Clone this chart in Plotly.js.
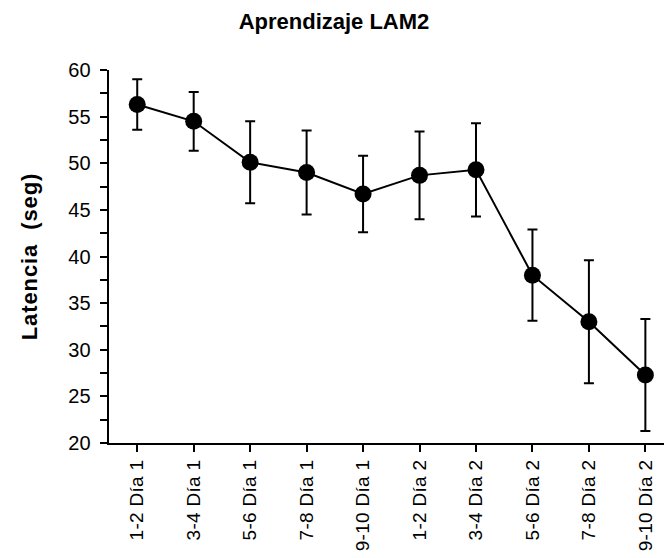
<!DOCTYPE html>
<html>
<head>
<meta charset="utf-8">
<script src="https://cdn.plot.ly/plotly-3.0.1.min.js"></script>
<style>
html,body{margin:0;padding:0;background:#fff;}
#chart{width:664px;height:558px;}
#chart .xtick text, #chart .ytick text {letter-spacing:0.3px;}
#chart .ytitle {letter-spacing:0.9px;}
</style>
</head>
<body>
<div id="chart"></div>
<script>
const categories = ["1-2 Día 1","3-4 Día 1","5-6 Día 1","7-8 Día 1","9-10 Día 1","1-2 Día 2","3-4 Día 2","5-6 Día 2","7-8 Día 2","9-10 Día 2"];
const latencia = [56.3, 54.5, 50.1, 49.0, 46.7, 48.7, 49.3, 38.0, 33.0, 27.3];
const errorSE = [2.7, 3.15, 4.4, 4.5, 4.1, 4.7, 5.0, 4.9, 6.6, 6.0];
const yTicks = [20, 25, 30, 35, 40, 45, 50, 55, 60];
const yMinorTicks = [22.5, 27.5, 32.5, 37.5, 42.5, 47.5, 52.5, 57.5];

const trace = {
  x: categories.map((c, i) => i),
  y: latencia,
  type: 'scatter',
  mode: 'lines+markers',
  line: {color: '#000', width: 2},
  marker: {color: '#000', size: 17},
  error_y: {type: 'data', array: errorSE, visible: true, color: '#000', thickness: 2, width: 5},
  hoverinfo: 'skip'
};

const font = 'Liberation Sans, Arial, sans-serif';
const layout = {
  width: 664, height: 558,
  margin: {l: 109, r: 0, t: 70, b: 115},
  paper_bgcolor: '#fff', plot_bgcolor: '#fff',
  showlegend: false,
  font: {family: font, color: '#000'},
  title: {text: '<b>Aprendizaje LAM2</b>', font: {family: font, size: 22, color: '#000'},
          x: 0.503, xref: 'container', xanchor: 'center', y: 0.962, yref: 'container', yanchor: 'middle'},
  xaxis: {
    range: [-0.5, 9.33],
    tickmode: 'array', tickvals: categories.map((c, i) => i), ticktext: categories,
    tickangle: -90,
    showline: true, linecolor: '#000', linewidth: 2,
    ticks: 'outside', ticklen: 7, tickwidth: 2, tickcolor: '#000',
    showgrid: false, zeroline: false,
    tickfont: {family: font, size: 19, color: '#000'}
  },
  yaxis: {
    range: [20, 60],
    tickmode: 'array', tickvals: yTicks,
    showline: true, linecolor: '#000', linewidth: 2,
    ticks: 'outside', ticklen: 7, tickwidth: 2, tickcolor: '#000',
    ticklabelstandoff: 5,
    minor: {tickmode: 'array', tickvals: yMinorTicks, ticks: 'outside', ticklen: 7, tickwidth: 2, tickcolor: '#000', showgrid: false},
    showgrid: false, zeroline: false,
    tickfont: {family: font, size: 20, color: '#000'},
    title: {text: '<b>Latencia  (seg)</b>', font: {family: font, size: 22, color: '#000'}, standoff: 25}
  }
};

Plotly.newPlot('chart', [trace], layout, {displayModeBar: false, staticPlot: true});
</script>
</body>
</html>
